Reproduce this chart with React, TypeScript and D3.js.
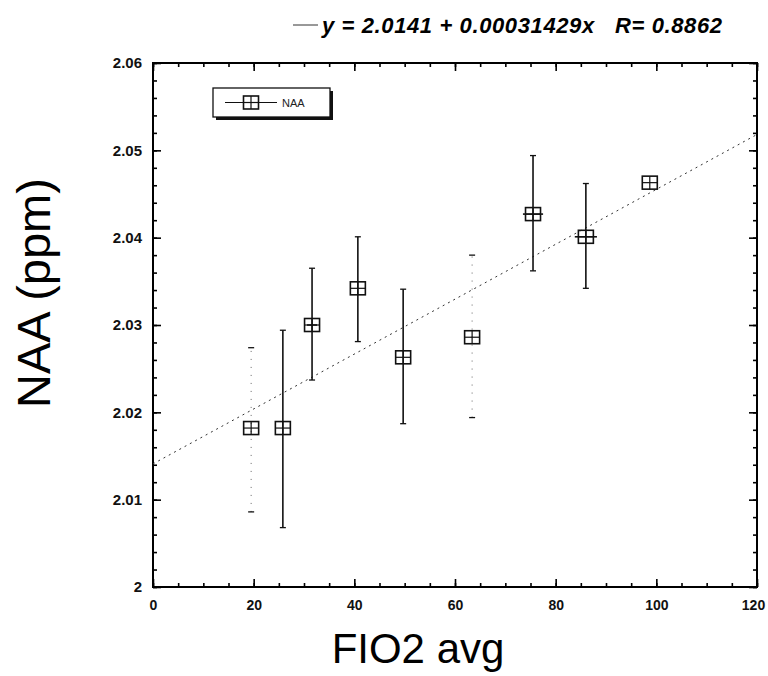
import React, { useEffect, useRef } from 'react';
import * as d3 from 'd3';

// values
const fio2 = [19.5, 25.8, 31.6, 40.7, 49.7, 63.4, 75.5, 86.0, 98.7];
const naa = [2.0182, 2.0182, 2.03, 2.0342, 2.0263, 2.0286, 2.0427, 2.0401, 2.0463];
const naaLow = [2.0086, 2.0068, 2.0237, 2.0281, 2.0187, 2.0194, 2.0362, 2.0342, 2.0463];
const naaHigh = [2.0274, 2.0294, 2.0365, 2.0401, 2.0341, 2.038, 2.0494, 2.0462, 2.0463];
const fio2Err = [0, 0, 1.0, 0, 0, 0, 2.0, 2.2, 0];

const xTicks = [0, 20, 40, 60, 80, 100, 120];
const xMinorTicks = d3.range(0, 121, 5);
const yTicks = [2, 2.01, 2.02, 2.03, 2.04, 2.05, 2.06];
const yMinorTicks = d3.range(0, 31).map(i => 2 + i * 0.002);

const fitIntercept = 2.0141;
const fitSlope = 0.00031429;
const fitR = 0.8862;
const seriesName = 'NAA';

const W = 768;
const H = 676;
const FONT = '"Liberation Sans", Arial, sans-serif';

const App = () => {
  const svgRef = useRef<SVGSVGElement>(null);

  useEffect(() => {
    const svg = d3.select(svgRef.current);
    svg.selectAll('*').remove();

    const left = 153, right = 757, top = 63, bottom = 587;
    const x = d3.scaleLinear().domain([0, 120]).range([left, right]);
    const y = d3.scaleLinear().domain([2, 2.06]).range([bottom, top]);

    // ticks, all pointing inward
    const tickAxis = (axis: any, pos: string, values: number[], size: number, labels: boolean) => {
      const g = svg.append('g').attr('transform', pos);
      g.call(
        axis
          .tickValues(values)
          .tickSize(-size)
          .tickPadding(11)
          .tickFormat(labels ? (d: number) => (d === 2 ? '2' : d3.format('.2f')(d)) : () => '')
      );
      g.select('.domain').remove();
      g.selectAll('line').attr('stroke', '#000').attr('stroke-width', 1.6);
      g.selectAll('text')
        .attr('font-family', FONT)
        .attr('font-size', 15)
        .attr('font-weight', 'bold')
        .attr('fill', '#111');
      return g;
    };

    const bx = tickAxis(d3.axisBottom(x), `translate(0,${bottom})`, xTicks, 8, true);
    bx.selectAll('text')
      .attr('dy', '0.85em')
      .attr('font-size', 14)
      .attr('dx', (d: any) => (d === 120 ? -4 : 0))
      .text((d: any) => d3.format('d')(d));
    tickAxis(d3.axisBottom(x), `translate(0,${bottom})`, xMinorTicks, 4, false);
    tickAxis(d3.axisTop(x), `translate(0,${top})`, xTicks, 8, false);
    tickAxis(d3.axisTop(x), `translate(0,${top})`, xMinorTicks, 4, false);
    tickAxis(d3.axisLeft(y), `translate(${left},0)`, yTicks, 8, true);
    tickAxis(d3.axisLeft(y), `translate(${left},0)`, yMinorTicks, 4, false);
    tickAxis(d3.axisRight(y), `translate(${right},0)`, yTicks, 8, false);
    tickAxis(d3.axisRight(y), `translate(${right},0)`, yMinorTicks, 4, false);

    // frame
    svg.append('rect')
      .attr('x', left).attr('y', top)
      .attr('width', right - left).attr('height', bottom - top)
      .attr('fill', 'none').attr('stroke', '#000').attr('stroke-width', 2);

    // regression line
    svg.append('line')
      .attr('x1', x(0)).attr('y1', y(fitIntercept))
      .attr('x2', x(120)).attr('y2', y(fitIntercept + fitSlope * 120))
      .attr('stroke', '#333').attr('stroke-width', 1)
      .attr('stroke-dasharray', '2,4');

    const data = fio2.map((v, i) => ({
      x: v, y: naa[i], lo: naaLow[i], hi: naaHigh[i], xe: fio2Err[i], i,
    }));
    const faintBars = new Set([0, 5]);

    const pts = svg.append('g').selectAll('g').data(data).enter().append('g');

    pts.append('line')
      .attr('x1', d => x(d.x)).attr('x2', d => x(d.x))
      .attr('y1', d => y(d.lo)).attr('y2', d => y(d.hi))
      .attr('stroke', d => (faintBars.has(d.i) ? '#666' : '#111'))
      .attr('stroke-width', d => (faintBars.has(d.i) ? 1 : 1.6))
      .attr('stroke-dasharray', d => (faintBars.has(d.i) ? '1,7' : null));

    // caps
    ['lo', 'hi'].forEach(k => {
      pts.filter(d => d.hi > d.lo)
        .append('line')
        .attr('x1', d => x(d.x) - 3).attr('x2', d => x(d.x) + 3)
        .attr('y1', d => y((d as any)[k])).attr('y2', d => y((d as any)[k]))
        .attr('stroke', '#111').attr('stroke-width', 1.3);
    });

    // horizontal error bars
    pts.filter(d => d.xe > 0)
      .append('line')
      .attr('x1', d => x(d.x - d.xe)).attr('x2', d => x(d.x + d.xe))
      .attr('y1', d => y(d.y)).attr('y2', d => y(d.y))
      .attr('stroke', '#111').attr('stroke-width', 1.6);

    const marker = (sel: any, cx: (d: any) => number, cy: (d: any) => number) => {
      sel.append('rect')
        .attr('x', (d: any) => cx(d) - 7.5).attr('y', (d: any) => cy(d) - 6.5)
        .attr('width', 15).attr('height', 13)
        .attr('fill', 'none').attr('stroke', '#111').attr('stroke-width', 1.6);
      sel.append('line')
        .attr('x1', (d: any) => cx(d) - 7.5).attr('x2', (d: any) => cx(d) + 7.5)
        .attr('y1', (d: any) => cy(d)).attr('y2', (d: any) => cy(d))
        .attr('stroke', '#111').attr('stroke-width', 1.2);
      sel.append('line')
        .attr('x1', (d: any) => cx(d)).attr('x2', (d: any) => cx(d))
        .attr('y1', (d: any) => cy(d) - 6.5).attr('y2', (d: any) => cy(d) + 6.5)
        .attr('stroke', '#111').attr('stroke-width', 1.2);
    };
    marker(pts, d => x(d.x), d => y(d.y));

    // legend
    const lg = svg.append('g');
    lg.append('rect').attr('x', 216).attr('y', 91).attr('width', 117).attr('height', 29).attr('fill', '#111');
    lg.append('rect').attr('x', 213).attr('y', 88).attr('width', 117).attr('height', 29)
      .attr('fill', '#fff').attr('stroke', '#111').attr('stroke-width', 1.3);
    lg.append('line').attr('x1', 225).attr('x2', 277).attr('y1', 102.5).attr('y2', 102.5)
      .attr('stroke', '#111').attr('stroke-width', 1.2);
    marker(lg.append('g').datum({}), () => 251, () => 102.5);
    lg.append('text').attr('x', 282).attr('y', 106.5)
      .attr('font-family', FONT).attr('font-size', 11).attr('fill', '#222')
      .text(seriesName);

    // title with line sample
    svg.append('line').attr('x1', 293).attr('x2', 318).attr('y1', 25).attr('y2', 25)
      .attr('stroke', '#333').attr('stroke-width', 1);
    svg.append('text')
      .attr('x', 322).attr('y', 33)
      .attr('font-family', FONT).attr('font-size', 22).attr('font-style', 'italic')
      .attr('font-weight', 'bold')
      .attr('fill', '#000')
      .attr('xml:space', 'preserve')
      .attr('textLength', 400)
      .text(`y = ${fitIntercept} + ${fitSlope}x   R= ${fitR}`);

    // axis titles
    svg.append('text')
      .attr('x', 418).attr('y', 663)
      .attr('text-anchor', 'middle')
      .attr('font-family', FONT).attr('font-size', 42)
      .attr('fill', '#000')
      .text('FIO2 avg');

    svg.append('text')
      .attr('transform', `translate(50,293) rotate(-90)`)
      .attr('text-anchor', 'middle')
      .attr('font-family', FONT).attr('font-size', 47)
      .attr('fill', '#000')
      .text('NAA (ppm)');
  }, []);

  return (
    <svg
      ref={svgRef}
      width={W}
      height={H}
      style={{ position: 'absolute', left: 0, top: 0, background: '#fff' }}
    />
  );
};

export default App;
